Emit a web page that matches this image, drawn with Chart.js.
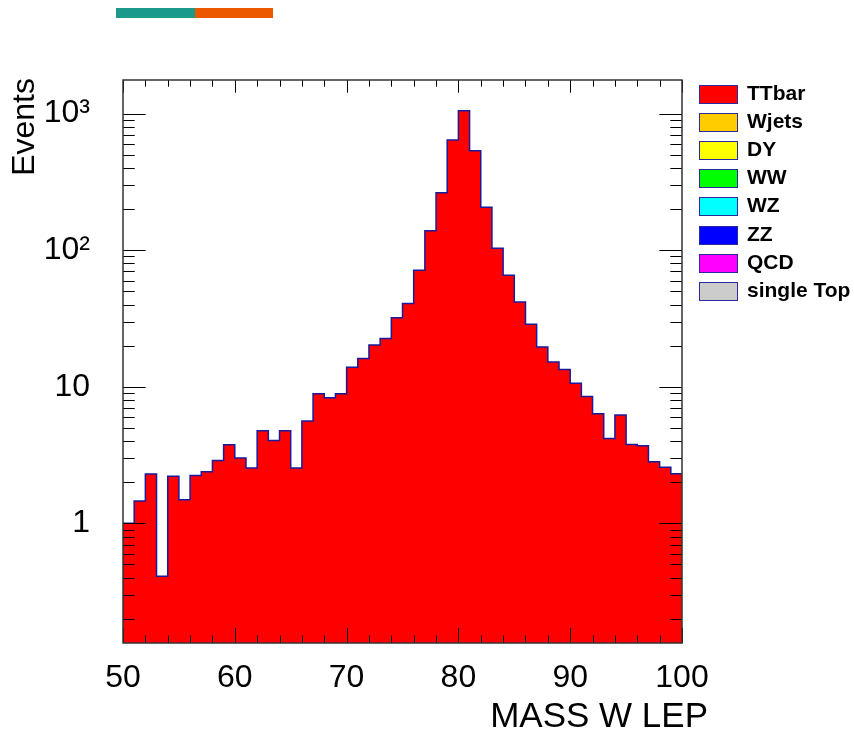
<!DOCTYPE html>
<html>
<head>
<meta charset="utf-8">
<title>MASS W LEP</title>
<script src="https://cdn.jsdelivr.net/npm/chart.js@4.4.1/dist/chart.umd.min.js"></script>
<style>
  body { margin: 0; background: #fff; font-family: 'Liberation Sans', Arial, sans-serif; }
  #wrap { position: relative; width: 854px; height: 731px; }
  #topbar { position: absolute; left: 116px; top: 8px; display: flex; }
  #topbar span { display: block; height: 10px; }
  #legend { position: absolute; left: 699px; top: 85px; }
  .item { position: absolute; left: 0; height: 20px; white-space: nowrap; }
  .box { position: absolute; left: 0; top: 0; width: 37px; height: 17px; border: 1px solid #2a2aa0; }
  .lbl { position: absolute; left: 48px; top: -4px; font-weight: bold; font-size: 21px; color: #000; }
</style>
</head>
<body>
<div id="wrap">
  <canvas id="histo" width="854" height="731"></canvas>
  <div id="topbar"><span style="width:79px;background:#1b9a8a"></span><span style="width:78px;background:#ec5800"></span></div>
  <div id="legend"></div>
</div>
<script>
// histogram binning
const xMin = 50;
const xMax = 100;
const binWidth = 1;

// TTbar counts per 1 GeV bin, 50..100
const ttbarCounts = [
  1.0, 1.46, 2.30, 0.41, 2.21, 1.49, 2.24, 2.39, 2.89, 3.77,
  3.01, 2.54, 4.77, 4.05, 4.77, 2.54, 5.61, 8.89, 8.31, 8.89,
  13.9, 16.1, 20.2, 22.6, 32.0, 40.7, 71.4, 139, 264, 641,
  1050, 535, 206, 103.5, 65.6, 41.7, 28.7, 19.6, 15.2, 13.4,
  10.6, 8.49, 6.35, 4.19, 6.21, 3.78, 3.70, 2.83, 2.57, 2.31
];

const sampleNames = ['TTbar', 'Wjets', 'DY', 'WW', 'WZ', 'ZZ', 'QCD', 'single Top'];
const sampleColors = ['#ff0000', '#ffcc00', '#ffff00', '#00ff00', '#00ffff', '#0000ff', '#ff00ff', '#cccccc'];

const xTickValues = [50, 60, 70, 80, 90, 100];
const yTickValues = [1, 10, 100, 1000];
const yTickLabels = ['1', '10', '10²', '10³'];

const FONT = "'Liberation Sans', Arial, sans-serif";

// turn bin contents into step outline points (left and right edge of each bin)
function stepPoints(counts) {
    const pts = [];
    counts.forEach((v, i) => {
        const lo = xMin + i * binWidth;
        pts.push({ x: lo, y: v }, { x: lo + binWidth, y: v });
    });
    return pts;
}

// ROOT style frame: ticks inside on all four sides
const rootFrame = {
    id: 'rootFrame',
    afterDatasetsDraw(chart) {
        const { ctx, chartArea: a, scales: { x, y } } = chart;
        ctx.save();
        ctx.strokeStyle = '#000';
        ctx.lineWidth = 1;
        ctx.beginPath();
        for (let v = xMin; v <= xMax; v += 2) {
            const px = Math.round(x.getPixelForValue(v)) + 0.5;
            const major = v % 10 === 0;
            ctx.moveTo(px, a.bottom);
            ctx.lineTo(px, a.bottom - (major ? 15 : 7.5));
            ctx.moveTo(px, a.top);
            ctx.lineTo(px, a.top + (major ? 12.7 : 6.7));
        }
        for (let d = -1; d <= 3; d++) {
            for (let m = 1; m <= 9; m++) {
                const v = m * Math.pow(10, d);
                if (v < y.min || v > y.max) continue;
                const py = Math.round(y.getPixelForValue(v)) + 0.5;
                const len = m === 1 ? 22.7 : 11.7;
                ctx.moveTo(a.left, py);
                ctx.lineTo(a.left + len, py);
                ctx.moveTo(a.right, py);
                ctx.lineTo(a.right - len, py);
            }
        }
        ctx.stroke();
        ctx.strokeStyle = '#333';
        ctx.lineWidth = 1.5;
        ctx.strokeRect(a.left, a.top, a.right - a.left, a.bottom - a.top);
        ctx.restore();
    },
    afterDraw(chart) {
        const { ctx, chartArea: a } = chart;
        ctx.save();
        ctx.fillStyle = '#000';
        ctx.font = '35px ' + FONT;
        ctx.textAlign = 'right';
        ctx.textBaseline = 'alphabetic';
        ctx.fillText('MASS W LEP', a.right + 26, 727);
        ctx.font = '32px ' + FONT;
        ctx.translate(a.left - 98, a.top - 2);
        ctx.rotate(-Math.PI / 2);
        ctx.textBaseline = 'middle';
        ctx.fillText('Events', 0, 0);
        ctx.restore();
    }
};

const datasets = sampleNames.map((name, i) => ({
    label: name,
    data: i === 0 ? stepPoints(ttbarCounts) : [],
    backgroundColor: sampleColors[i],
    borderColor: '#1a1a9c',
    borderWidth: 1.5,
    pointRadius: 0,
    fill: 'start'
}));

const chart = new Chart(document.getElementById('histo'), {
    type: 'line',
    data: { datasets: datasets },
    options: {
        responsive: false,
        animation: false,
        devicePixelRatio: 1,
        layout: { padding: { top: 80, right: 172, left: 0, bottom: 0 } },
        plugins: {
            legend: { display: false },
            tooltip: { enabled: false }
        },
        scales: {
            x: {
                type: 'linear',
                min: xMin,
                max: xMax,
                afterBuildTicks: s => { s.ticks = xTickValues.map(v => ({ value: v })); },
                afterFit: s => { s.height = 88; },
                grid: { display: false, drawTicks: false },
                border: { display: false },
                ticks: {
                    padding: 16,
                    color: '#000',
                    maxRotation: 0,
                    autoSkip: false,
                    font: { family: FONT, size: 32 },
                    callback: v => String(v)
                }
            },
            y: {
                type: 'logarithmic',
                min: 0.133,
                max: 1764,
                afterBuildTicks: s => { s.ticks = yTickValues.map(v => ({ value: v })); },
                afterFit: s => { s.width = 123; },
                grid: { display: false, drawTicks: false },
                border: { display: false },
                ticks: {
                    padding: 33,
                    color: '#000',
                    autoSkip: false,
                    font: { family: FONT, size: 32 },
                    callback: v => yTickLabels[yTickValues.indexOf(v)]
                }
            }
        }
    },
    plugins: [rootFrame]
});

// legend in ROOT style, built from the chart datasets
const legend = document.getElementById('legend');
chart.data.datasets.forEach((ds, i) => {
    const item = document.createElement('div');
    item.className = 'item';
    item.style.top = (i * 28.1) + 'px';
    item.innerHTML = '<span class="box" style="background:' + ds.backgroundColor + '"></span>' +
        '<span class="lbl">' + ds.label + '</span>';
    legend.appendChild(item);
});
</script>
</body>
</html>
